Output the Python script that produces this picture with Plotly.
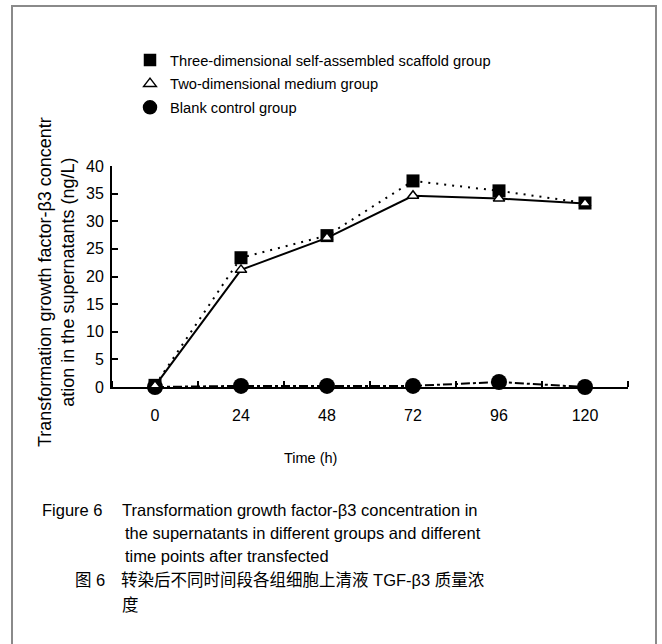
import plotly.graph_objects as go

# ---- data ----
time_h = [0, 24, 48, 72, 96, 120]
tick_labels = ["0", "24", "48", "72", "96", "120"]
three_dim = [0.3, 23.4, 27.4, 37.3, 35.5, 33.3]
two_dim = [0.2, 21.2, 27.0, 34.6, 34.1, 33.2]
blank = [0.0, 0.2, 0.2, 0.2, 0.9, 0.0]
series_names = ["Three-dimensional self-assembled scaffold group",
                "Two-dimensional medium group",
                "Blank control group"]

# ---- layout geometry (pixels) ----
FW, FH = 662, 644
L, R, T, B = 112, 628, 166, 387
W, H = R - L, B - T


def px(p):
    return (p - L) / W


def py(p):
    return (B - p) / H


FONT = "Liberation Sans, Arial, Noto Sans CJK SC, sans-serif"

fig = go.Figure()

fig.add_trace(go.Scatter(x=time_h, y=blank, mode="lines+markers", showlegend=False,
                         line=dict(color="black", width=2, dash="dashdot"),
                         marker=dict(symbol="circle", size=16, color="black"),
                         cliponaxis=False))
fig.add_trace(go.Scatter(x=time_h, y=three_dim, mode="lines+markers", showlegend=False,
                         line=dict(color="black", width=2, dash="2px,6px"),
                         marker=dict(symbol="square", size=13, color="black"),
                         cliponaxis=False))
fig.add_trace(go.Scatter(x=time_h, y=two_dim, mode="lines+markers", showlegend=False,
                         line=dict(color="black", width=2),
                         marker=dict(symbol="triangle-up", size=10, color="white",
                                     line=dict(color="black", width=1.5)),
                         cliponaxis=False))

# legend-only entries (markers only)
legend_symbols = [("square", 11, "black", "black"),
                  ("triangle-up", 11, "white", "black"),
                  ("circle", 13, "black", "black")]
for i, (name, (sym, sz, fc, lc)) in enumerate(zip(series_names, legend_symbols)):
    fig.add_trace(go.Scatter(x=[None], y=[None], mode="markers", name=name,
                             legendgroup=f"g{i}",
                             marker=dict(symbol=sym, size=sz, color=fc,
                                         line=dict(color=lc, width=1.5))))

fig.update_layout(
    width=FW, height=FH,
    margin=dict(l=L, r=FW - R, t=T, b=FH - B),
    paper_bgcolor="white", plot_bgcolor="white",
    font=dict(family=FONT, color="black", size=15),
    legend=dict(x=px(130), y=py(44), xanchor="left", yanchor="top",
                font=dict(size=14.7), bgcolor="rgba(0,0,0,0)",
                tracegroupgap=1.5, itemsizing="trace"),
    xaxis=dict(range=[-12, 132], showline=True, linecolor="black", linewidth=2,
               showgrid=False, zeroline=False,
               tickmode="array", tickvals=time_h, ticktext=tick_labels,
               ticks="", tickfont=dict(size=16), ticklabelstandoff=13,
               minor=dict(tickmode="array", tickvals=[-12, 12, 36, 60, 84, 108, 132],
                          ticks="inside", ticklen=6, tickcolor="black", tickwidth=1.5)),
    yaxis=dict(range=[0, 40], showline=True, linecolor="black", linewidth=2,
               showgrid=False, zeroline=False, dtick=5, tick0=0,
               ticks="inside", ticklen=6, tickcolor="black", tickwidth=1.5,
               tickfont=dict(size=16), ticklabelstandoff=3),
)

# border frame
fig.add_shape(type="rect", xref="paper", yref="paper",
              x0=px(12), x1=px(656), y0=py(660), y1=py(6),
              line=dict(color="#8a8a8a", width=2), fillcolor="rgba(0,0,0,0)")

# y-axis title
fig.add_annotation(xref="paper", yref="paper", x=px(56), y=py(282),
                   text="Transformation growth factor-β3 concentr<br>ation in the supernatants (ng/L)",
                   textangle=-90, showarrow=False, xanchor="center", yanchor="middle",
                   font=dict(size=18))
# x-axis title
fig.add_annotation(xref="paper", yref="paper", x=px(310), y=py(458),
                   text="Time (h)", showarrow=False, xanchor="center", yanchor="middle",
                   font=dict(size=14.5))

# caption
cap = [
    (40, 510, "Figure 6"),
    (120, 510, "Transformation growth factor-β3 concentration in"),
    (123, 533, "the supernatants in different groups and different"),
    (123, 556, "time points after transfected"),
    (73, 580, "图 6"),
    (119, 580, "转染后不同时间段各组细胞上清液 TGF-β3 质量浓"),
    (120, 605, "度"),
]
for x, y, t in cap:
    fig.add_annotation(xref="paper", yref="paper", x=px(x), y=py(y), text=t,
                       showarrow=False, xanchor="left", yanchor="middle",
                       font=dict(size=16.5))

fig.write_html("out.html", config={"displayModeBar": False},
               post_script="document.body.style.margin='0px';")
